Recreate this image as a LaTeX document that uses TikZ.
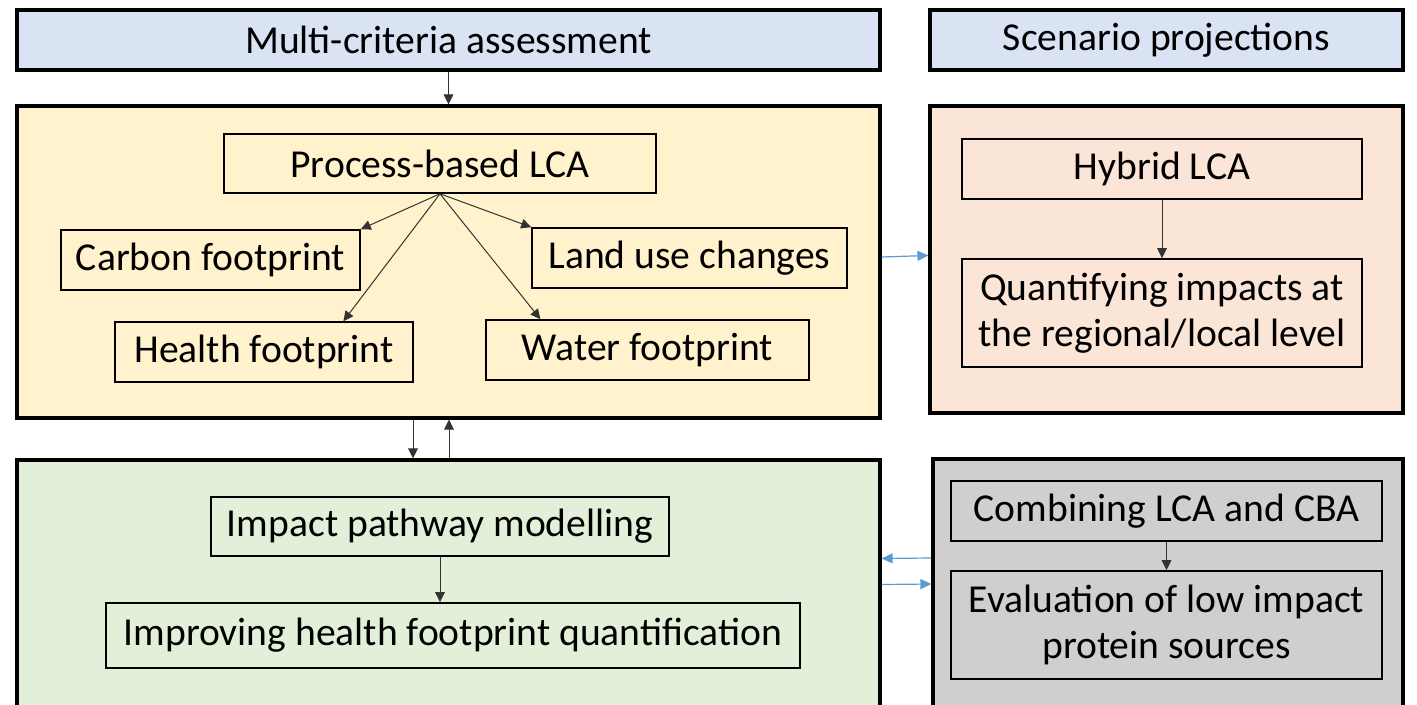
\documentclass[tikz,border=0pt]{standalone}
\usepackage{fontspec}
\setmainfont{Carlito}
\usetikzlibrary{arrows.meta,calc}
\definecolor{hdrblue}{HTML}{DAE3F3}
\definecolor{yel}{HTML}{FFF2CC}
\definecolor{pnk}{HTML}{FBE5D6}
\definecolor{grn}{HTML}{E2F0D9}
\definecolor{gry}{HTML}{D0CECE}
\definecolor{arrblue}{HTML}{5B9BD5}
\tikzset{
  outerbox/.style={draw=black, line width=1.6pt, inner sep=0pt},
  innerbox/.style={draw=black, line width=0.8pt, inner sep=0pt, align=center,
    font=\fontsize{19.8}{23}\selectfont},
  hdr/.style={outerbox, fill=hdrblue, font=\fontsize{19.8}{23}\selectfont},
  arr/.style={draw=black!80, line width=0.5pt, -{Triangle[length=5pt,width=4.8pt]}},
  bluearr/.style={draw=arrblue, line width=0.6pt, -{Triangle[length=5.5pt,width=5pt]}}
}
\begin{document}
\begin{tikzpicture}[x=0.5pt,y=-0.5pt]
\useasboundingbox (0,0) rectangle (1417,705);
\clip (0,0) rectangle (1417,705);
\fill[white] (0,0) rectangle (1417,705);
% headers
\node[hdr, minimum width=431.5pt, minimum height=30pt] (head1) at (448.5,40) {Multi-criteria assessment};
\node[hdr, minimum width=236.5pt, minimum height=30pt] (head2) at (1166.5,40) {Scenario projections};
% outer boxes
\node[outerbox, fill=yel, minimum width=431.5pt, minimum height=156pt] (yellow) at (448.5,262) {};
\node[outerbox, fill=pnk, minimum width=236.5pt, minimum height=153.5pt] (pink) at (1166.5,259.5) {};
\node[outerbox, fill=grn, minimum width=431.5pt, minimum height=150pt] (green) at (448.5,610) {};
\node[outerbox, fill=gry, minimum width=235pt, minimum height=150.5pt] (grey) at (1168,609.5) {};
% inner boxes: yellow
\node[innerbox, minimum width=216pt, minimum height=29.5pt] (process) at (440,163.5) {Process-based LCA};
\node[innerbox, minimum width=149.5pt, minimum height=30pt] (carbon) at (210.5,260) {Carbon footprint};
\node[innerbox, minimum width=157.5pt, minimum height=30pt] (land) at (689.5,258) {Land use changes};
\node[innerbox, minimum width=149pt, minimum height=30pt] (health) at (264,352) {Health footprint};
\node[innerbox, minimum width=161.5pt, minimum height=30pt] (water) at (647.5,350) {Water footprint};
% pink
\node[innerbox, minimum width=200pt, minimum height=30pt] (hybrid) at (1162,169) {Hybrid LCA};
\node[innerbox, minimum width=200pt, minimum height=54pt] (quant) at (1162,313) {Quantifying impacts at\\the regional/local level};
% green
\node[innerbox, minimum width=229pt, minimum height=29.5pt] (impact) at (440,526.5) {Impact pathway modelling};
\node[innerbox, minimum width=347pt, minimum height=32.5pt] (improving) at (453,635.5) {Improving health footprint quantification};
% grey
\node[innerbox, minimum width=215.5pt, minimum height=30pt] (combining) at (1166.5,511) {Combining LCA and CBA};
\node[innerbox, minimum width=215.5pt, minimum height=54pt] (evaluation) at (1166.5,625) {Evaluation of low impact\\protein sources};
% arrows
\draw[arr] (head1.south) -- (yellow.north);
\draw[arr] (process.south) -- (carbon.north east);
\draw[arr] (process.south) -- ($(health.north west)!0.765!(health.north east)$);
\draw[arr] (process.south) -- (land.north west);
\draw[arr] (process.south) -- ($(water.north west)!0.17!(water.north east)$);
\draw[arr] (hybrid.south) -- (quant.north);
\draw[arr] (combining.south) -- (evaluation.north);
\draw[arr] (impact.south) -- (improving.north -| impact.south);
\draw[arr] ([xshift=-17.75pt]yellow.south) -- ([xshift=-17.75pt]green.north);
\draw[arr] ([xshift=0.25pt]green.north) -- ([xshift=0.25pt]yellow.south);
\draw[bluearr] ([yshift=2.5pt]yellow.east) -- ([yshift=2pt]pink.west);
\draw[bluearr] ([yshift=25.75pt]grey.west) -- ([yshift=25.75pt]green.east);
\draw[bluearr] ([yshift=12.75pt]green.east) -- ([yshift=12.75pt]grey.west);
\end{tikzpicture}
\end{document}
